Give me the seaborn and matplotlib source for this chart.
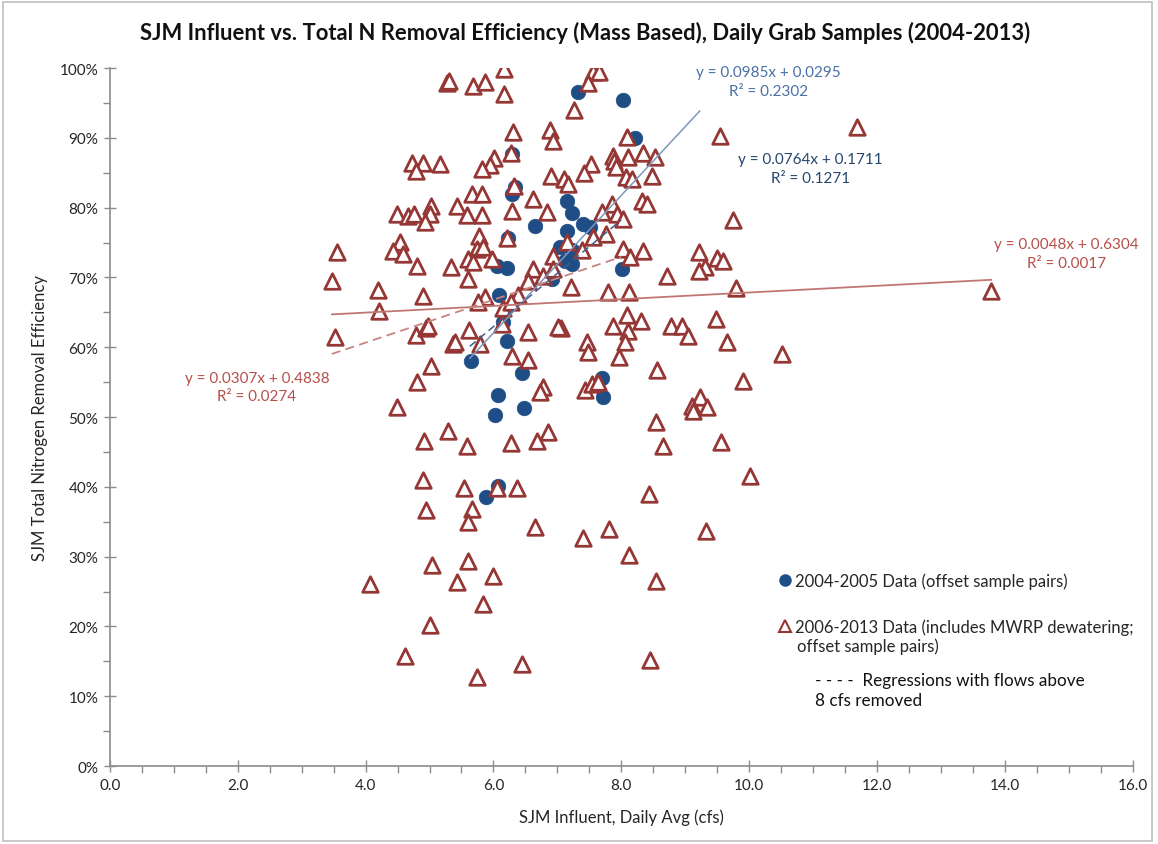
import numpy as np
import pandas as pd
import matplotlib

matplotlib.use("Agg")
import matplotlib.pyplot as plt
import seaborn as sns
from matplotlib.lines import Line2D
from matplotlib.patches import Rectangle
from matplotlib.ticker import FuncFormatter, MultipleLocator

# 2004-2005 data (offset sample pairs): influent cfs, removal efficiency %
blue_x = [7.32, 8.03, 8.22, 6.29, 6.34, 6.29, 6.65, 6.23, 6.05, 6.21, 6.09,
          7.15, 7.23, 7.40, 7.51, 7.15, 7.04, 7.23, 7.12, 7.23, 6.92, 8.01,
          6.15, 6.21, 5.65, 6.45, 6.07, 6.48, 6.02, 6.07, 5.88, 7.70, 7.72]
blue_y = [96.6, 95.4, 90.0, 87.7, 83.0, 81.9, 77.4, 75.6, 71.6, 71.3, 67.5,
          80.9, 79.2, 77.6, 77.2, 76.6, 74.3, 74.0, 72.3, 71.9, 69.8, 71.2,
          63.6, 60.9, 58.0, 56.3, 53.2, 51.3, 50.3, 40.1, 38.5, 55.6, 52.9]

# 2006-2013 data (includes MWRP dewatering)
red_x = [5.27, 5.30, 5.68, 5.87, 6.17, 6.17, 6.31, 6.89, 6.93, 6.28, 6.01,
         5.95, 5.82, 4.73, 4.90, 4.79, 5.16, 6.32, 6.90, 5.66, 5.82, 6.62,
         5.43, 5.02, 5.00, 4.49, 4.66, 4.76, 4.93, 5.58, 5.82, 6.29, 6.84,
         5.78, 6.21, 4.54, 4.43, 4.59, 5.74, 5.84, 3.55, 5.60, 5.68, 5.98,
         4.80, 5.34, 3.47, 4.19, 5.60, 4.90, 6.93, 6.62, 6.54,
         7.56, 7.65, 7.48, 7.26, 8.09, 9.55, 7.87, 7.89, 7.92, 8.11, 8.34,
         8.53, 7.53, 7.42, 7.10, 7.17, 8.07, 8.17, 8.48, 8.33, 8.40, 7.86,
         7.70, 7.93, 8.03, 9.75, 7.76, 7.56, 7.15, 7.39, 8.03, 8.14, 8.34,
         9.22, 9.50, 9.59, 9.31, 9.22, 8.72, 6.78, 6.93, 7.21, 9.80, 7.79,
         8.12,
         7.06, 8.09, 8.11, 8.31, 7.87, 8.78, 8.95, 9.05, 9.48, 9.66, 10.52,
         7.46, 7.48, 8.06, 7.97, 8.56, 9.91, 7.43, 7.54, 7.64, 6.78, 6.73,
         9.23, 9.11, 9.34, 9.12, 8.54, 6.85, 8.65, 9.56, 10.02, 8.44,
         5.87, 5.76, 6.38, 6.15, 6.28, 4.21, 3.52, 4.79, 4.95, 4.98, 5.62,
         5.37, 5.40, 5.79, 6.13, 6.54, 7.01, 6.29, 6.54, 5.02, 4.80, 4.49,
         5.29, 4.91, 5.59, 6.28, 6.68, 4.90, 5.54, 6.06, 6.37, 4.95, 5.67,
         5.60, 6.65,
         5.04, 5.60, 4.07, 5.43, 5.99, 5.84, 5.01, 4.62, 6.45, 5.74,
         7.40, 7.81, 9.33, 8.12, 8.54, 8.45, 11.69, 13.79]
red_y = [97.9, 98.2, 97.4, 98.0, 99.9, 96.3, 90.8, 91.1, 89.5, 87.8, 87.1,
         86.1, 85.5, 86.4, 86.4, 85.2, 86.2, 83.1, 84.5, 81.9, 81.9, 81.2,
         80.2, 80.2, 79.1, 79.1, 78.8, 79.1, 77.9, 78.9, 78.9, 79.5, 79.4,
         75.9, 75.6, 75.1, 73.8, 73.4, 74.1, 74.4, 73.6, 72.6, 72.2, 72.6,
         71.6, 71.5, 69.5, 68.2, 69.8, 67.3, 73.1, 71.2, 69.5,
         99.4, 99.4, 97.9, 94.0, 90.1, 90.3, 87.4, 86.7, 85.8, 87.2, 87.8,
         87.2, 86.2, 85.0, 84.1, 83.4, 84.4, 84.1, 84.5, 80.9, 80.5, 80.5,
         79.4, 79.1, 78.4, 78.2, 76.2, 75.8, 75.1, 73.9, 74.1, 72.9, 73.8,
         73.6, 72.8, 72.3, 71.5, 70.9, 70.2, 70.2, 71.2, 68.6, 68.5, 67.9,
         67.9,
         62.7, 64.6, 62.3, 63.8, 63.0, 63.0, 63.0, 61.6, 64.0, 60.7, 59.0,
         60.7, 59.3, 60.7, 58.6, 56.7, 55.2, 53.9, 54.7, 55.0, 54.3, 53.6,
         52.9, 51.6, 51.4, 50.9, 49.3, 47.9, 45.8, 46.4, 41.5, 39.0,
         67.2, 66.5, 67.5, 65.6, 66.5, 65.2, 61.5, 61.7, 62.7, 63.0, 62.5,
         60.5, 60.7, 60.5, 63.3, 62.2, 62.9, 58.7, 58.2, 57.3, 55.0, 51.4,
         48.0, 46.6, 45.8, 46.3, 46.6, 41.0, 39.8, 39.8, 39.8, 36.7, 36.8,
         35.0, 34.2,
         28.8, 29.4, 26.1, 26.4, 27.2, 23.2, 20.2, 15.8, 14.6, 12.8,
         32.7, 34.0, 33.7, 30.2, 26.5, 15.2, 91.5, 68.0]

# trendlines: slope, intercept (fractions), x range, R²
trend_slope = [0.0985, 0.0764, 0.0048, 0.0307]
trend_icpt = [0.0295, 0.1711, 0.6304, 0.4838]
trend_x0 = [5.63, 5.63, 3.47, 3.47]
trend_x1 = [9.23, 8.0, 13.79, 8.0]
trend_r2 = ["0.2302", "0.1271", "0.0017", "0.0274"]

BLUE = "#1f4e87"
RED = "#953735"

sns.set_style("white")
plt.rcParams["font.family"] = ["Lato", "DejaVu Sans"]

fig = plt.figure(figsize=(11.58, 8.45), dpi=100)
ax = fig.add_axes([0.095, 0.0923, 0.883, 0.826])

blue_df = pd.DataFrame({"x": blue_x, "y": blue_y})
red_df = pd.DataFrame({"x": red_x, "y": red_y})

sns.scatterplot(data=blue_df, x="x", y="y", ax=ax, marker="o", s=110,
                color=BLUE, edgecolor=BLUE, linewidth=0.5, zorder=3)
sns.scatterplot(data=red_df, x="x", y="y", ax=ax, marker="^", s=125,
                facecolor="white", edgecolor=RED, linewidth=2.0, zorder=4)

line_styles = [("#7f97b9", "-", 1.1), ("#3c5f91", (0, (5, 3)), 1.1),
               ("#c07774", "-", 1.3), ("#c88380", (0, (5, 3)), 1.3)]
for m, b, x0, x1, (c, ls, lw) in zip(trend_slope, trend_icpt, trend_x0,
                                      trend_x1, line_styles):
    xs = np.array([x0, x1])
    ax.plot(xs, (m * xs + b) * 100, color=c, linestyle=ls, linewidth=lw,
            zorder=5)

# equation labels
label_pos = [(10.30, 98.1, "#4a70a6"), (10.96, 85.6, "#27466f"),
             (14.97, 73.4, "#b5504c"), (2.30, 54.3, "#b5504c")]
for m, b, r2, (lx, ly, c) in zip(trend_slope, trend_icpt, trend_r2, label_pos):
    ax.text(lx, ly, f"y = {m:.4f}x + {b:.4f}\nR² = {r2}", color=c,
            fontsize=11, ha="center", va="center", linespacing=1.45,
            zorder=6)

ax.set_xlim(0, 16)
ax.set_ylim(0, 100)
ax.xaxis.set_major_locator(MultipleLocator(2))
ax.xaxis.set_minor_locator(MultipleLocator(0.5))
ax.yaxis.set_major_locator(MultipleLocator(10))
ax.yaxis.set_minor_locator(MultipleLocator(5))
ax.xaxis.set_major_formatter(FuncFormatter(lambda v, p: f"{v:.1f}"))
ax.yaxis.set_major_formatter(FuncFormatter(lambda v, p: f"{v:.0f}%"))
ax.tick_params(which="major", direction="inout", length=9, width=1,
               color="#8c8c8c", labelsize=11, labelcolor="#262626", pad=4)
ax.tick_params(which="minor", direction="out", length=5, width=1,
               color="#8c8c8c")
ax.tick_params(axis="x", which="both", bottom=True)
ax.tick_params(axis="y", which="both", left=True)
sns.despine(ax=ax)
for side in ("left", "bottom"):
    ax.spines[side].set_color("#8c8c8c")
    ax.spines[side].set_linewidth(1.2)

ax.set_xlabel("SJM Influent, Daily Avg (cfs)", fontsize=12, color="#262626",
              labelpad=12)
ax.set_ylabel("SJM Total Nitrogen Removal Efficiency", fontsize=12,
              color="#262626", labelpad=8)
ax.set_title("SJM Influent vs. Total N Removal Efficiency (Mass Based), "
             "Daily Grab Samples (2004-2013)", fontsize=15.8,
             fontweight="bold", color="#111111", pad=21, x=0.465)

handles = [
    Line2D([], [], marker="o", linestyle="none", color=BLUE, markersize=8),
    Line2D([], [], marker="^", linestyle="none", markerfacecolor="white",
           markeredgecolor=RED, markeredgewidth=1.5, markersize=8.5),
]
labels = ["2004-2005 Data (offset sample pairs)",
          "2006-2013 Data (includes MWRP dewatering;"]
leg = ax.legend(handles, labels, loc="upper left",
                bbox_to_anchor=(0.654, 0.278), frameon=False, fontsize=12,
                handletextpad=0.15, handlelength=0.8, labelspacing=1.8,
                borderpad=0, borderaxespad=0)
for t in leg.get_texts():
    t.set_color("#262626")
ax.text(0.6716, 0.172, "offset sample pairs)", transform=ax.transAxes,
        fontsize=12, color="#262626", va="center", ha="left")
ax.text(0.689, 0.109, "- - - -  Regressions with flows above\n8 cfs removed",
        transform=ax.transAxes, fontsize=12.3, color="#111111", va="center",
        ha="left", linespacing=1.3)

fig.patches.append(Rectangle((0.003, 0.004), 0.992, 0.992,
                             transform=fig.transFigure, fill=False,
                             edgecolor="#bfbfbf", linewidth=1.2))

fig.savefig("out.png", dpi=100)
